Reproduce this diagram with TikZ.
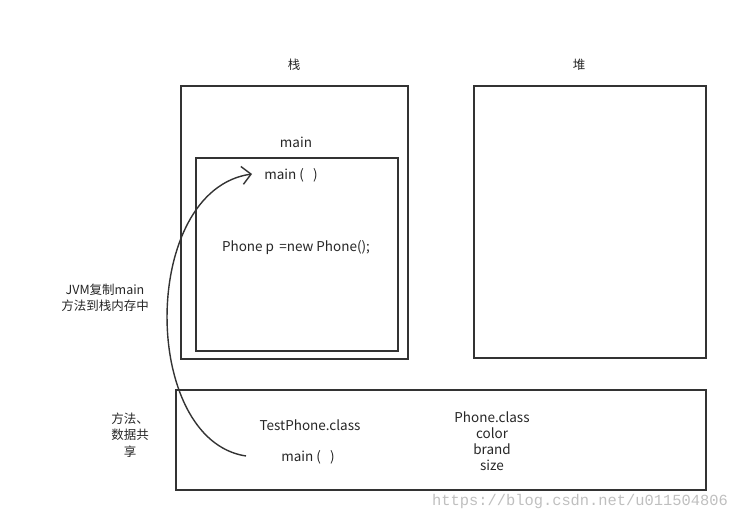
\documentclass[tikz,border=0pt]{standalone}
\usepackage{fontspec}
\setmainfont{Noto Sans CJK SC}
\newfontfamily\wmfont{Liberation Mono}
\usetikzlibrary{arrows.meta}

\begin{document}
\begin{tikzpicture}[x=1pt, y=-1pt,
    box/.style = {draw=black!80, line width=1.6pt, inner sep=0pt},
    txt/.style = {text=black!85, font=\fontsize{12.5}{16.5}\selectfont, align=center, inner sep=0pt},
    code/.style = {txt, font=\fontsize{13.5}{16}\selectfont}]
    \useasboundingbox (0,0) rectangle (738,522);

    % memory areas
    \node[box, minimum width=227pt, minimum height=273pt] (stack) at (294.5,222.5) {};
    \node[box, minimum width=202pt, minimum height=193pt] (frame) at (297,254.5) {};
    \node[box, minimum width=232pt, minimum height=272pt] (heap) at (590,222) {};
    \node[box, minimum width=530pt, minimum height=100pt] (method) at (441,440) {};

    \node[txt] (stacklbl) at (294,65) {栈};
    \node[txt] (heaplbl) at (579,65) {堆};
    \node[code] (framelbl) at (296,142) {main};
    \node[code] (mains) at (291,175) {main (\ \ \ )};
    \node[code] (newp) at (296,248) {Phone p \,=new Phone();};

    \node[txt] (copy) at (105,298) {JVM复制main\\方法到栈内存中};
    \node[txt] (share) at (130,435) {方法、\\数据共\\享};

    \node[code] (testcls) at (310,425) {TestPhone.class};
    \node[code] (mainm) at (308,457) {main (\ \ \ )};
    \node[code] (phonecls) at (492,441) {Phone.class\\color\\brand\\size};

    \node[text=black!25, font=\wmfont\fontsize{15.4}{15}\selectfont] (wm) at (580,501.5) {https://blog.csdn.net/u011504806};

    % copy of main into the stack
    \coordinate (from) at (246,456);
    \coordinate (to) at (252,174);
    \draw[black!80, line width=1.4pt, -{Straight Barb[length=9pt, width=18pt]}]
        (from) .. controls (140,440) and (140,190) .. (to);
\end{tikzpicture}
\end{document}
